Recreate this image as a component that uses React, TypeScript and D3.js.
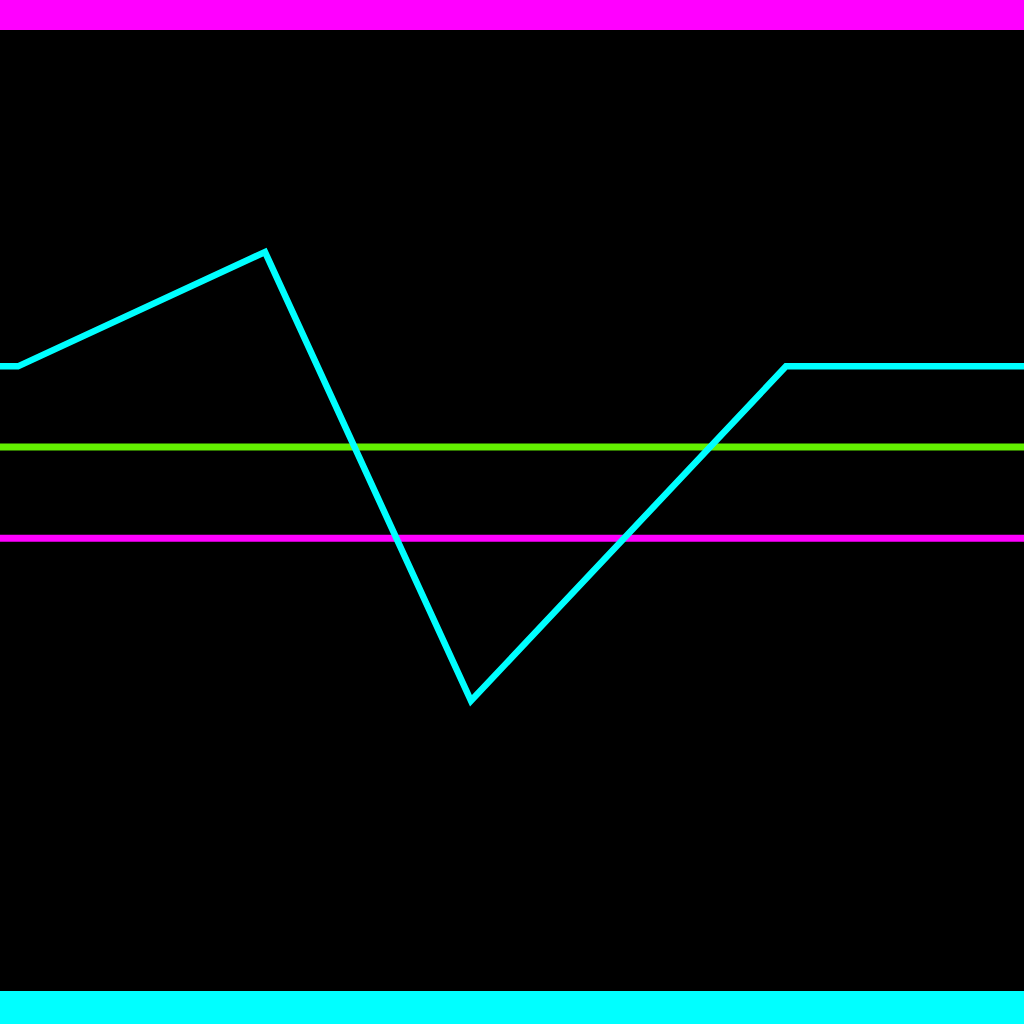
import React from "react";
import * as d3 from "d3";

const W = 1024;
const H = 1024;

// cyan polyline (x in 0..102.4 domain units, y in 0..100 value units)
const lineX = [0, 1.8, 26.5, 47.1, 78.6, 102.4];
const lineY = [65.0, 65.0, 76.9, 30.2, 65.0, 65.0];

// horizontal reference lines
const refNames = ["green", "magenta"];
const refValues = [56.6, 47.1];
const refColors = ["#62f000", "#ff00ff"];

// bands
const bandNames = ["top", "bottom"];
const bandFrom = [100, 0];
const bandTo = [104, -4];
const bandColors = ["#ff00ff", "#00ffff"];

export default function App() {
  React.useEffect(() => {
    document.body.style.margin = "0";
    document.body.style.background = "#000";
  }, []);

  const x = d3.scaleLinear().domain([0, 102.4]).range([0, W]);
  const y = d3.scaleLinear().domain([0, 100]).range([991, 30]);

  const pts: [number, number][] = lineX.map((v, i) => [v, lineY[i]]);
  const line = d3
    .line<[number, number]>()
    .x((d) => x(d[0]))
    .y((d) => y(d[1]));

  return (
    <svg
      width={W}
      height={H}
      style={{ position: "fixed", left: 0, top: 0, display: "block" }}
    >
      <rect x={0} y={0} width={W} height={H} fill="#000" />
      {bandNames.map((n, i) => {
        const a = y(bandFrom[i]);
        const b = y(bandTo[i]);
        return (
          <rect
            key={n}
            x={0}
            y={Math.min(a, b)}
            width={W}
            height={Math.abs(b - a)}
            fill={bandColors[i]}
          />
        );
      })}
      {refNames.map((n, i) => (
        <line
          key={n}
          x1={x(0)}
          x2={x(102.4)}
          y1={y(refValues[i])}
          y2={y(refValues[i])}
          stroke={refColors[i]}
          strokeWidth={7}
        />
      ))}
      <path
        d={line(pts) || ""}
        fill="none"
        stroke="#00ffff"
        strokeWidth={6.5}
        strokeLinejoin="miter"
      />
    </svg>
  );
}
